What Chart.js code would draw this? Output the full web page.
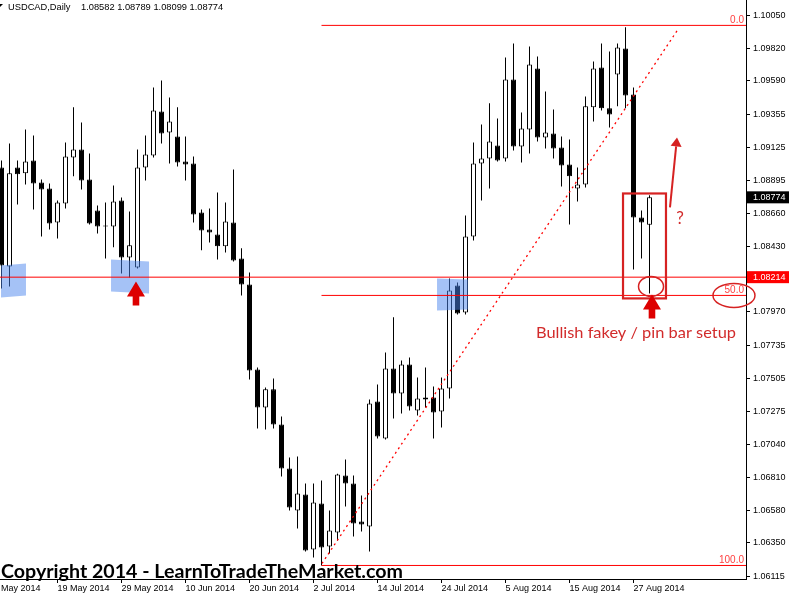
<!DOCTYPE html>
<html>
<head>
<meta charset="utf-8">
<script src="https://cdn.jsdelivr.net/npm/chart.js@4.4.1/dist/chart.umd.min.js"></script>
<style>
    html, body { margin: 0; padding: 0; background: #fff; }
    canvas { display: block; }
</style>
</head>
<body>
<canvas id="chart" width="789" height="598"></canvas>
<script>
// USDCAD daily candles (oldest first)
const opens = [
    1.08984, 1.08289, 1.08984, 1.08942, 1.09033, 1.08878, 1.08836, 1.08598, 1.08731, 1.09054,
    1.09110, 1.08899, 1.08682, 1.08577, 1.08570, 1.08752, 1.08352, 1.08282, 1.08984, 1.09068,
    1.09376, 1.09229, 1.09201, 1.09026, 1.09012, 1.08668, 1.08549, 1.08514, 1.08430, 1.08598,
    1.08345, 1.08163, 1.07567, 1.07300, 1.07427, 1.07181, 1.06872, 1.06578, 1.06690, 1.06304,
    1.06627, 1.06325, 1.06424, 1.06823, 1.06767, 1.06501, 1.06466, 1.07342, 1.07083, 1.07574,
    1.07398, 1.07602, 1.07279, 1.07370, 1.07370, 1.07272, 1.07434, 1.08156, 1.07967, 1.08500,
    1.09012, 1.09047, 1.09138, 1.09047, 1.09601, 1.09131, 1.09250, 1.09678, 1.09194, 1.09222,
    1.09124, 1.09005, 1.08836, 1.08864, 1.09405, 1.09685, 1.09398, 1.09636, 1.09818, 1.09496,
    1.08633, 1.08582
];
const highs = [
    1.09033, 1.09152, 1.09033, 1.09250, 1.09208, 1.08899, 1.08871, 1.08752, 1.09159, 1.09405,
    1.09299, 1.09082, 1.08717, 1.08738, 1.08857, 1.08773, 1.08675, 1.09110, 1.09208, 1.09545,
    1.09594, 1.09475, 1.09405, 1.09201, 1.09061, 1.08689, 1.08696, 1.08808, 1.08738, 1.08970,
    1.08416, 1.08247, 1.07581, 1.07441, 1.07504, 1.07237, 1.06950, 1.06957, 1.06767, 1.06767,
    1.06788, 1.06578, 1.06835, 1.06936, 1.06823, 1.06683, 1.07356, 1.07462, 1.07686, 1.07932,
    1.07630, 1.07651, 1.07511, 1.07581, 1.07448, 1.07511, 1.08205, 1.08177, 1.08647, 1.09159,
    1.09285, 1.09433, 1.09327, 1.09755, 1.09853, 1.09369, 1.09832, 1.09762, 1.09517, 1.09390,
    1.09201, 1.09180, 1.08984, 1.09482, 1.09727, 1.09853, 1.09797, 1.09853, 1.09966, 1.09545,
    1.08682, 1.08789
];
const lows = [
    1.08135, 1.08149, 1.08724, 1.08864, 1.08689, 1.08500, 1.08549, 1.08486, 1.08696, 1.08921,
    1.08829, 1.08584, 1.08521, 1.08345, 1.08423, 1.08240, 1.08212, 1.08275, 1.08892, 1.09054,
    1.09152, 1.09012, 1.08991, 1.08892, 1.08598, 1.08402, 1.08458, 1.08338, 1.08387, 1.08324,
    1.08086, 1.07497, 1.07153, 1.07146, 1.07153, 1.06816, 1.06578, 1.06452, 1.06290, 1.06248,
    1.06192, 1.06276, 1.06367, 1.06606, 1.06395, 1.06431, 1.06290, 1.07083, 1.07076, 1.07223,
    1.07258, 1.07279, 1.07244, 1.07300, 1.07083, 1.07160, 1.07363, 1.07953, 1.07953, 1.08472,
    1.08752, 1.08836, 1.09026, 1.09026, 1.09103, 1.09019, 1.09082, 1.09166, 1.09117, 1.09047,
    1.08850, 1.08584, 1.08745, 1.08843, 1.09306, 1.09383, 1.09264, 1.09412, 1.09398, 1.08268,
    1.08345, 1.08099
];
const closes = [
    1.08296, 1.08942, 1.08935, 1.09026, 1.08871, 1.08829, 1.08591, 1.08738, 1.09061, 1.09110,
    1.08892, 1.08591, 1.08570, 1.08570, 1.08745, 1.08352, 1.08437, 1.08984, 1.09075, 1.09383,
    1.09222, 1.09306, 1.09019, 1.09005, 1.08654, 1.08542, 1.08528, 1.08430, 1.08605, 1.08331,
    1.08163, 1.07560, 1.07300, 1.07427, 1.07181, 1.06872, 1.06599, 1.06697, 1.06297, 1.06634,
    1.06318, 1.06438, 1.06830, 1.06767, 1.06487, 1.06480, 1.07328, 1.07097, 1.07574, 1.07398,
    1.07602, 1.07307, 1.07363, 1.07356, 1.07265, 1.07434, 1.08121, 1.07960, 1.08500, 1.09012,
    1.09047, 1.09166, 1.09033, 1.09601, 1.09131, 1.09257, 1.09706, 1.09194, 1.09229, 1.09117,
    1.08998, 1.08921, 1.08864, 1.09412, 1.09678, 1.09398, 1.09355, 1.09825, 1.09489, 1.08633,
    1.08598, 1.08774
];

// Axis ticks
const xTickIndex = [-1, 7, 15, 23, 31, 39, 47, 55, 63, 71, 79];
const xTickLabels = ['7 May 2014', '19 May 2014', '29 May 2014', '10 Jun 2014', '20 Jun 2014',
    '2 Jul 2014', '14 Jul 2014', '24 Jul 2014', '5 Aug 2014', '15 Aug 2014', '27 Aug 2014'];
const yTicks = [1.10050, 1.09820, 1.09590, 1.09355, 1.09125, 1.08895, 1.08660, 1.08430,
    1.07970, 1.07735, 1.07505, 1.07275, 1.07040, 1.06810, 1.06580, 1.06350, 1.06115];

// Drawn objects (index, price)
const supportLevel = 1.08214;
const fibHigh = 1.09980;
const fibLow = 1.06192;
const fibStart = 40;
const fibLevels = [0, 50, 100];
const trendLine = [[40.06, 1.06206], [84.56, 1.09952]];
const blueZones = [
    [[-0.06, 1.08296], [3.06, 1.08310], [3.06, 1.08086], [-0.06, 1.08072]],
    [[13.69, 1.08338], [18.44, 1.08324], [18.44, 1.08100], [13.69, 1.08114]],
    [[54.44, 1.08205], [58.31, 1.08198], [58.31, 1.07988], [54.44, 1.07981]]
];
const setupBox = [[77.69, 1.08801], [83.06, 1.08065]];
const bigArrows = [[16.81, 1.08184], [81.31, 1.08093]];
const pinCircle = [81.19, 1.08149];
const fibCircle = [91.56, 1.08086];
const thinArrow = [[83.56, 1.08703], [84.44, 1.09194]];
const questionMark = [84.81, 1.08626];
const setupText = [66.81, 1.07784];

const xMin = -0.1875, xMax = 93.0625;
const yMin = 1.06097, yMax = 1.10158;

const axisFont = { family: 'Liberation Sans', size: 9 };
const fibPrice = lvl => fibHigh - (fibHigh - fibLow) * lvl / 100;

function hLine(price, from, color) {
    return {
        type: 'line',
        data: [{ x: from, y: price }, { x: xMax, y: price }],
        borderColor: color,
        borderWidth: 1,
        pointRadius: 0,
        order: 2
    };
}

function fitText(ctx, text, x, y, width) {
    const w = ctx.measureText(text).width;
    ctx.save();
    ctx.translate(x, y);
    ctx.scale(width / w, 1);
    ctx.fillText(text, 0, 0);
    ctx.restore();
}

const overlay = {
    id: 'overlay',
    afterDatasetDraw(chart, args) {
        if (args.index !== 1) return; // right after the candle bodies
        const ctx = chart.ctx, xs = chart.scales.x, ys = chart.scales.y;
        ctx.save();
        ctx.fillStyle = 'rgba(75, 134, 237, 0.5)';
        blueZones.forEach(zone => {
            ctx.beginPath();
            zone.forEach(([i, p], k) => {
                const px = xs.getPixelForValue(i), py = ys.getPixelForValue(p);
                k ? ctx.lineTo(px, py) : ctx.moveTo(px, py);
            });
            ctx.closePath();
            ctx.fill();
        });
        ctx.restore();
    },
    afterDraw(chart) {
        const ctx = chart.ctx, xs = chart.scales.x, ys = chart.scales.y, area = chart.chartArea;
        const X = v => xs.getPixelForValue(v), Y = v => ys.getPixelForValue(v);
        ctx.save();

        // fibo level labels
        ctx.font = '10px "Liberation Sans"';
        ctx.fillStyle = '#ff4040';
        ctx.textAlign = 'right';
        fibLevels.forEach(l => ctx.fillText(l.toFixed(1), area.right - 2, Y(fibPrice(l)) - 2));
        ctx.textAlign = 'left';

        // setup box
        const red = '#d62222';
        ctx.strokeStyle = red;
        ctx.lineWidth = 2.2;
        const bx0 = X(setupBox[0][0]), by0 = Y(setupBox[0][1]);
        ctx.strokeRect(bx0, by0, X(setupBox[1][0]) - bx0, Y(setupBox[1][1]) - by0);

        // circles
        ctx.lineWidth = 1.5;
        ctx.beginPath();
        ctx.ellipse(X(pinCircle[0]), Y(pinCircle[1]), 12.5, 10, 0, 0, Math.PI * 2);
        ctx.stroke();
        ctx.beginPath();
        ctx.ellipse(X(fibCircle[0]), Y(fibCircle[1]), 21, 12, 0, 0, Math.PI * 2);
        ctx.stroke();

        // big up arrows
        ctx.fillStyle = '#dd0000';
        bigArrows.forEach(([i, p]) => {
            const cx = X(i), ty = Y(p), hh = 15, hw = 9, sw = 3.3, sh = 9;
            ctx.beginPath();
            ctx.moveTo(cx, ty);
            ctx.lineTo(cx + hw, ty + hh);
            ctx.lineTo(cx + sw, ty + hh);
            ctx.lineTo(cx + sw, ty + hh + sh);
            ctx.lineTo(cx - sw, ty + hh + sh);
            ctx.lineTo(cx - sw, ty + hh);
            ctx.lineTo(cx - hw, ty + hh);
            ctx.closePath();
            ctx.fill();
        });

        // thin arrow up
        ctx.strokeStyle = red;
        ctx.fillStyle = red;
        const sx = X(thinArrow[0][0]), sy = Y(thinArrow[0][1]);
        const tx = X(thinArrow[1][0]), ty = Y(thinArrow[1][1]);
        const ang = Math.atan2(ty - sy, tx - sx);
        const hx = tx - 9 * Math.cos(ang), hy = ty - 9 * Math.sin(ang);
        ctx.lineWidth = 2;
        ctx.beginPath();
        ctx.moveTo(sx, sy);
        ctx.lineTo(hx, hy);
        ctx.stroke();
        ctx.beginPath();
        ctx.moveTo(tx, ty);
        ctx.lineTo(hx + 5.5 * Math.sin(ang), hy - 5.5 * Math.cos(ang));
        ctx.lineTo(hx - 5.5 * Math.sin(ang), hy + 5.5 * Math.cos(ang));
        ctx.closePath();
        ctx.fill();

        // texts
        ctx.fillStyle = '#d22b2b';
        ctx.font = '17px Lato';
        ctx.textAlign = 'center';
        ctx.textBaseline = 'middle';
        ctx.fillText('?', X(questionMark[0]), Y(questionMark[1]));
        ctx.textAlign = 'left';
        ctx.textBaseline = 'alphabetic';
        ctx.font = '16px Lato';
        fitText(ctx, 'Bullish fakey / pin bar setup', X(setupText[0]), Y(setupText[1]), 200);

        ctx.fillStyle = '#000';
        ctx.font = 'bold 18px Lato';
        fitText(ctx, 'Copyright 2014 - LearnToTradeTheMarket.com', 1, 578, 402);

        // price tags on the axis
        ctx.font = '9px "Liberation Sans"';
        ctx.textBaseline = 'middle';
        [[closes[closes.length - 1], '#000'], [supportLevel, '#ff0000']].forEach(([p, bg]) => {
            const py = Y(p);
            ctx.fillStyle = bg;
            ctx.fillRect(area.right + 1, py - 6, chart.width - area.right - 1, 12);
            ctx.fillStyle = '#fff';
            ctx.fillText(p.toFixed(5), area.right + 7, py);
        });

        // header
        ctx.fillStyle = '#000';
        ctx.beginPath();
        ctx.moveTo(0, 4);
        ctx.lineTo(3, 4);
        ctx.lineTo(0, 7);
        ctx.closePath();
        ctx.fill();
        ctx.font = '9.3px "Liberation Sans"';
        ctx.textBaseline = 'middle';
        ctx.fillText('USDCAD,Daily', 8, 7);
        const last = opens.length - 1;
        ctx.fillText([opens[last], highs[last], lows[last], closes[last]].map(v => v.toFixed(5)).join(' '), 81, 7);

        ctx.restore();
    }
};

const datasets = [
    {
        label: 'wicks',
        data: highs.map((h, i) => ({ x: i, y: [lows[i], h] })),
        backgroundColor: '#000',
        borderWidth: 0,
        barThickness: 1,
        maxBarThickness: 1,
        grouped: false,
        inflateAmount: 0,
        order: 5
    },
    {
        label: 'bodies',
        data: opens.map((o, i) => ({ x: i, y: [o, closes[i]] })),
        backgroundColor: opens.map((o, i) => closes[i] >= o ? '#fff' : '#000'),
        borderColor: '#000',
        borderWidth: 1,
        borderSkipped: false,
        barThickness: 5,
        maxBarThickness: 5,
        minBarLength: 1,
        grouped: false,
        inflateAmount: 0,
        order: 4
    },
    hLine(supportLevel, xMin, '#ff0000'),
    ...fibLevels.map(l => hLine(fibPrice(l), fibStart, '#ff0000')),
    {
        type: 'line',
        data: trendLine.map(([x, y]) => ({ x, y })),
        borderColor: '#ff0000',
        borderWidth: 1.3,
        borderDash: [2, 3.5],
        pointRadius: 0,
        order: 1
    }
];

new Chart(document.getElementById('chart'), {
    type: 'bar',
    data: { datasets },
    plugins: [overlay],
    options: {
        responsive: false,
        devicePixelRatio: 1,
        animation: false,
        layout: { padding: 0 },
        plugins: {
            legend: { display: false },
            tooltip: { enabled: false }
        },
        scales: {
            x: {
                type: 'linear',
                min: xMin,
                max: xMax,
                bounds: 'data',
                offset: false,
                grid: { drawOnChartArea: false, tickLength: 4, color: '#000', offset: false },
                border: { color: '#000' },
                ticks: {
                    autoSkip: false,
                    maxRotation: 0,
                    minRotation: 0,
                    align: 'start',
                    padding: 0,
                    color: '#000',
                    font: axisFont,
                    callback: v => xTickLabels[xTickIndex.indexOf(v)] || ''
                },
                afterBuildTicks: s => { s.ticks = xTickIndex.map(v => ({ value: v })); },
                afterFit: s => { s.height = 19; s.paddingLeft = 0; s.paddingRight = 0; }
            },
            y: {
                type: 'linear',
                position: 'right',
                min: yMin,
                max: yMax,
                bounds: 'data',
                grid: { drawOnChartArea: false, tickLength: 4, color: '#000' },
                border: { color: '#000' },
                ticks: {
                    color: '#000',
                    font: axisFont,
                    padding: 3,
                    callback: v => v.toFixed(5)
                },
                afterBuildTicks: s => { s.ticks = yTicks.map(v => ({ value: v })); },
                afterFit: s => { s.width = 43; s.paddingTop = 0; s.paddingBottom = 0; }
            }
        }
    }
});
</script>
</body>
</html>
